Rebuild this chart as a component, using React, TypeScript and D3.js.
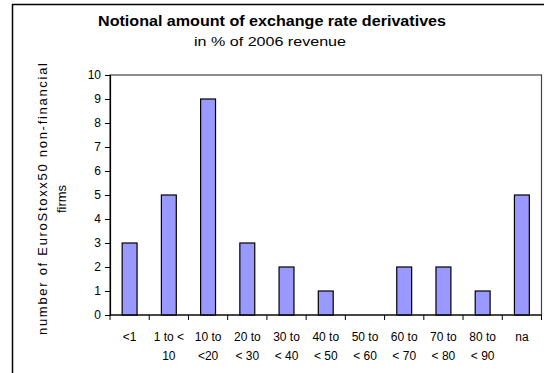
import React, { useRef, useEffect } from 'react';
import * as d3 from 'd3';

const categories = ['<1', '1 to <10', '10 to <20', '20 to <30', '30 to <40', '40 to <50', '50 to <60', '60 to <70', '70 to <80', '80 to <90', 'na'];
const labelLines = [
  ['<1', ''],
  ['1 to <', '10'],
  ['10 to', '<20'],
  ['20 to', '< 30'],
  ['30 to', '< 40'],
  ['40 to', '< 50'],
  ['50 to', '< 60'],
  ['60 to', '< 70'],
  ['70 to', '< 80'],
  ['80 to', '< 90'],
  ['na', ''],
];
const firms = [3, 5, 9, 3, 2, 1, 0, 2, 2, 1, 5];
const yTicks = [0, 1, 2, 3, 4, 5, 6, 7, 8, 9, 10];

const title = 'Notional amount of exchange rate derivatives';
const subtitle = 'in % of 2006 revenue';
const yTitle = ['number of EuroStoxx50 non-financial', 'firms'];

const App = () => {
  const ref = useRef<SVGSVGElement | null>(null);

  useEffect(() => {
    if (!ref.current) return;
    const svg = d3.select(ref.current);
    svg.selectAll('*').remove();

    const font = '"Liberation Sans", Arial, sans-serif';
    const left = 110, right = 541.5, top = 75, bottom = 315;

    const x = d3.scaleBand<string>().domain(categories).range([left, right]).padding(0);
    const y = d3.scaleLinear().domain([0, 10]).range([bottom, top]);
    const bw = x.bandwidth() * 0.38;

    // outer chart border
    svg.append('rect')
      .attr('x', 12.5).attr('y', 4.5).attr('width', 600).attr('height', 500)
      .attr('fill', '#fff').attr('stroke', '#000').attr('stroke-width', 1.5);

    // titles
    svg.append('text').attr('x', 272).attr('y', 26)
      .attr('text-anchor', 'middle').attr('font-family', font)
      .attr('font-weight', 'bold').attr('font-size', 15)
      .attr('textLength', 348).attr('lengthAdjust', 'spacingAndGlyphs').text(title);
    svg.append('text').attr('x', 270).attr('y', 46)
      .attr('text-anchor', 'middle').attr('font-family', font)
      .attr('font-size', 13)
      .attr('textLength', 152).attr('lengthAdjust', 'spacingAndGlyphs').text(subtitle);

    // plot frame
    svg.append('rect')
      .attr('x', left).attr('y', top).attr('width', right - left).attr('height', bottom - top)
      .attr('fill', 'none').attr('stroke', '#444').attr('stroke-width', 1.2);

    // bars
    svg.append('g').selectAll('rect').data(firms).join('rect')
      .attr('x', (d, i) => x(categories[i])! + x.bandwidth() / 2 - bw / 2)
      .attr('y', d => y(d))
      .attr('width', bw)
      .attr('height', d => y(0) - y(d))
      .attr('fill', '#9999ff').attr('stroke', '#000').attr('stroke-width', 1.2);

    // y axis
    const ya = svg.append('g').attr('transform', `translate(${left},0)`)
      .call(d3.axisLeft(y).tickValues(yTicks).tickSize(5).tickPadding(4).tickFormat(d3.format('d')));
    ya.select('.domain').attr('stroke', '#000').attr('stroke-width', 1.2);
    ya.selectAll('line').attr('stroke', '#000');
    ya.selectAll('text').attr('font-family', font).attr('font-size', 12).attr('fill', '#000');

    // x axis with ticks at category boundaries
    const xa = svg.append('g').attr('transform', `translate(0,${bottom})`);
    xa.append('line').attr('x1', left).attr('x2', right).attr('stroke', '#000').attr('stroke-width', 1.2);
    const bounds = categories.map(c => x(c)!).concat([right]);
    xa.selectAll('line.tick').data(bounds).join('line').attr('class', 'tick')
      .attr('x1', d => d).attr('x2', d => d).attr('y1', 0).attr('y2', 5)
      .attr('stroke', '#000');
    const lbl = xa.selectAll('text').data(labelLines).join('text')
      .attr('text-anchor', 'middle').attr('font-family', font).attr('font-size', 12)
      .attr('transform', (d, i) => `translate(${x(categories[i])! + x.bandwidth() / 2},0)`);
    lbl.append('tspan').attr('x', 0).attr('y', 26).text(d => d[0]);
    lbl.append('tspan').attr('x', 0).attr('y', 45).text(d => d[1]);

    // y axis title
    const yt = svg.append('text').attr('font-family', font).attr('font-size', 13)
      .attr('text-anchor', 'middle').attr('transform', 'translate(47,199) rotate(-90)');
    yt.append('tspan').attr('x', 0).attr('y', 0)
      .attr('textLength', 272).attr('lengthAdjust', 'spacing').text(yTitle[0]);
    yt.append('tspan').attr('x', 0).attr('y', 19).text(yTitle[1]);
  }, []);

  return (
    <svg ref={ref} width={544} height={373}
      style={{ position: 'absolute', left: 0, top: 0, background: '#fff' }} />
  );
};

export default App;
